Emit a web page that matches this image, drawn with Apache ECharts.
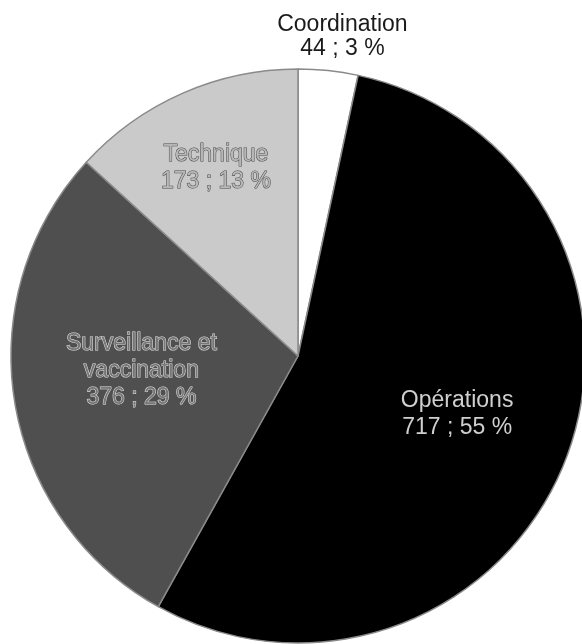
<!DOCTYPE html>
<html>
<head>
<meta charset="utf-8">
<script src="https://cdn.jsdelivr.net/npm/echarts@6/dist/echarts.min.js"></script>
<style>
  html, body { margin: 0; padding: 0; background: #fff; }
  #chart { width: 582px; height: 644px; }
</style>
</head>
<body>
<div id="chart"></div>
<script>
// Répartition par domaine (nombre ; part en %)
const categories = ['Coordination', 'Opérations', 'Surveillance et\nvaccination', 'Technique'];
const counts = [44, 717, 376, 173];
const percents = [3, 55, 29, 13];

const sliceColors = ['#ffffff', '#000000', '#4f4f4f', '#cacaca'];
// Label styling per slice; the small first slice carries its label above the pie
const labelStyles = [
  { color: '#1a1a1a', lineHeight: 24, offset: [29, -174] },
  { color: '#cfcfcf', offset: [22, 7] },
  { color: '#777777', textBorderColor: '#e2e2e2', textBorderWidth: 1, offset: [-12, -9] },
  { color: '#b8b8b8', textBorderColor: '#4a4a4a', textBorderWidth: 1, offset: [-23, -54] }
];

const data = categories.map((name, i) => ({
  name,
  value: counts[i],
  itemStyle: { color: sliceColors[i] },
  label: Object.assign({
    formatter: name + '\n' + counts[i] + ' ; ' + percents[i] + ' %'
  }, labelStyles[i])
}));

const chart = echarts.init(document.getElementById('chart'), null, { renderer: 'canvas' });
chart.setOption({
  animation: false,
  backgroundColor: '#ffffff',
  series: [{
    type: 'pie',
    center: [298, 356],
    radius: 287,
    startAngle: 90,
    clockwise: true,
    avoidLabelOverlap: false,
    itemStyle: { borderColor: '#8a8a8a', borderWidth: 1.5 },
    label: {
      position: 'inside',
      fontFamily: '"Liberation Sans", Arial, sans-serif',
      fontSize: 23,
      lineHeight: 27
    },
    labelLine: { show: false },
    emphasis: { disabled: true },
    data
  }]
});
</script>
</body>
</html>
